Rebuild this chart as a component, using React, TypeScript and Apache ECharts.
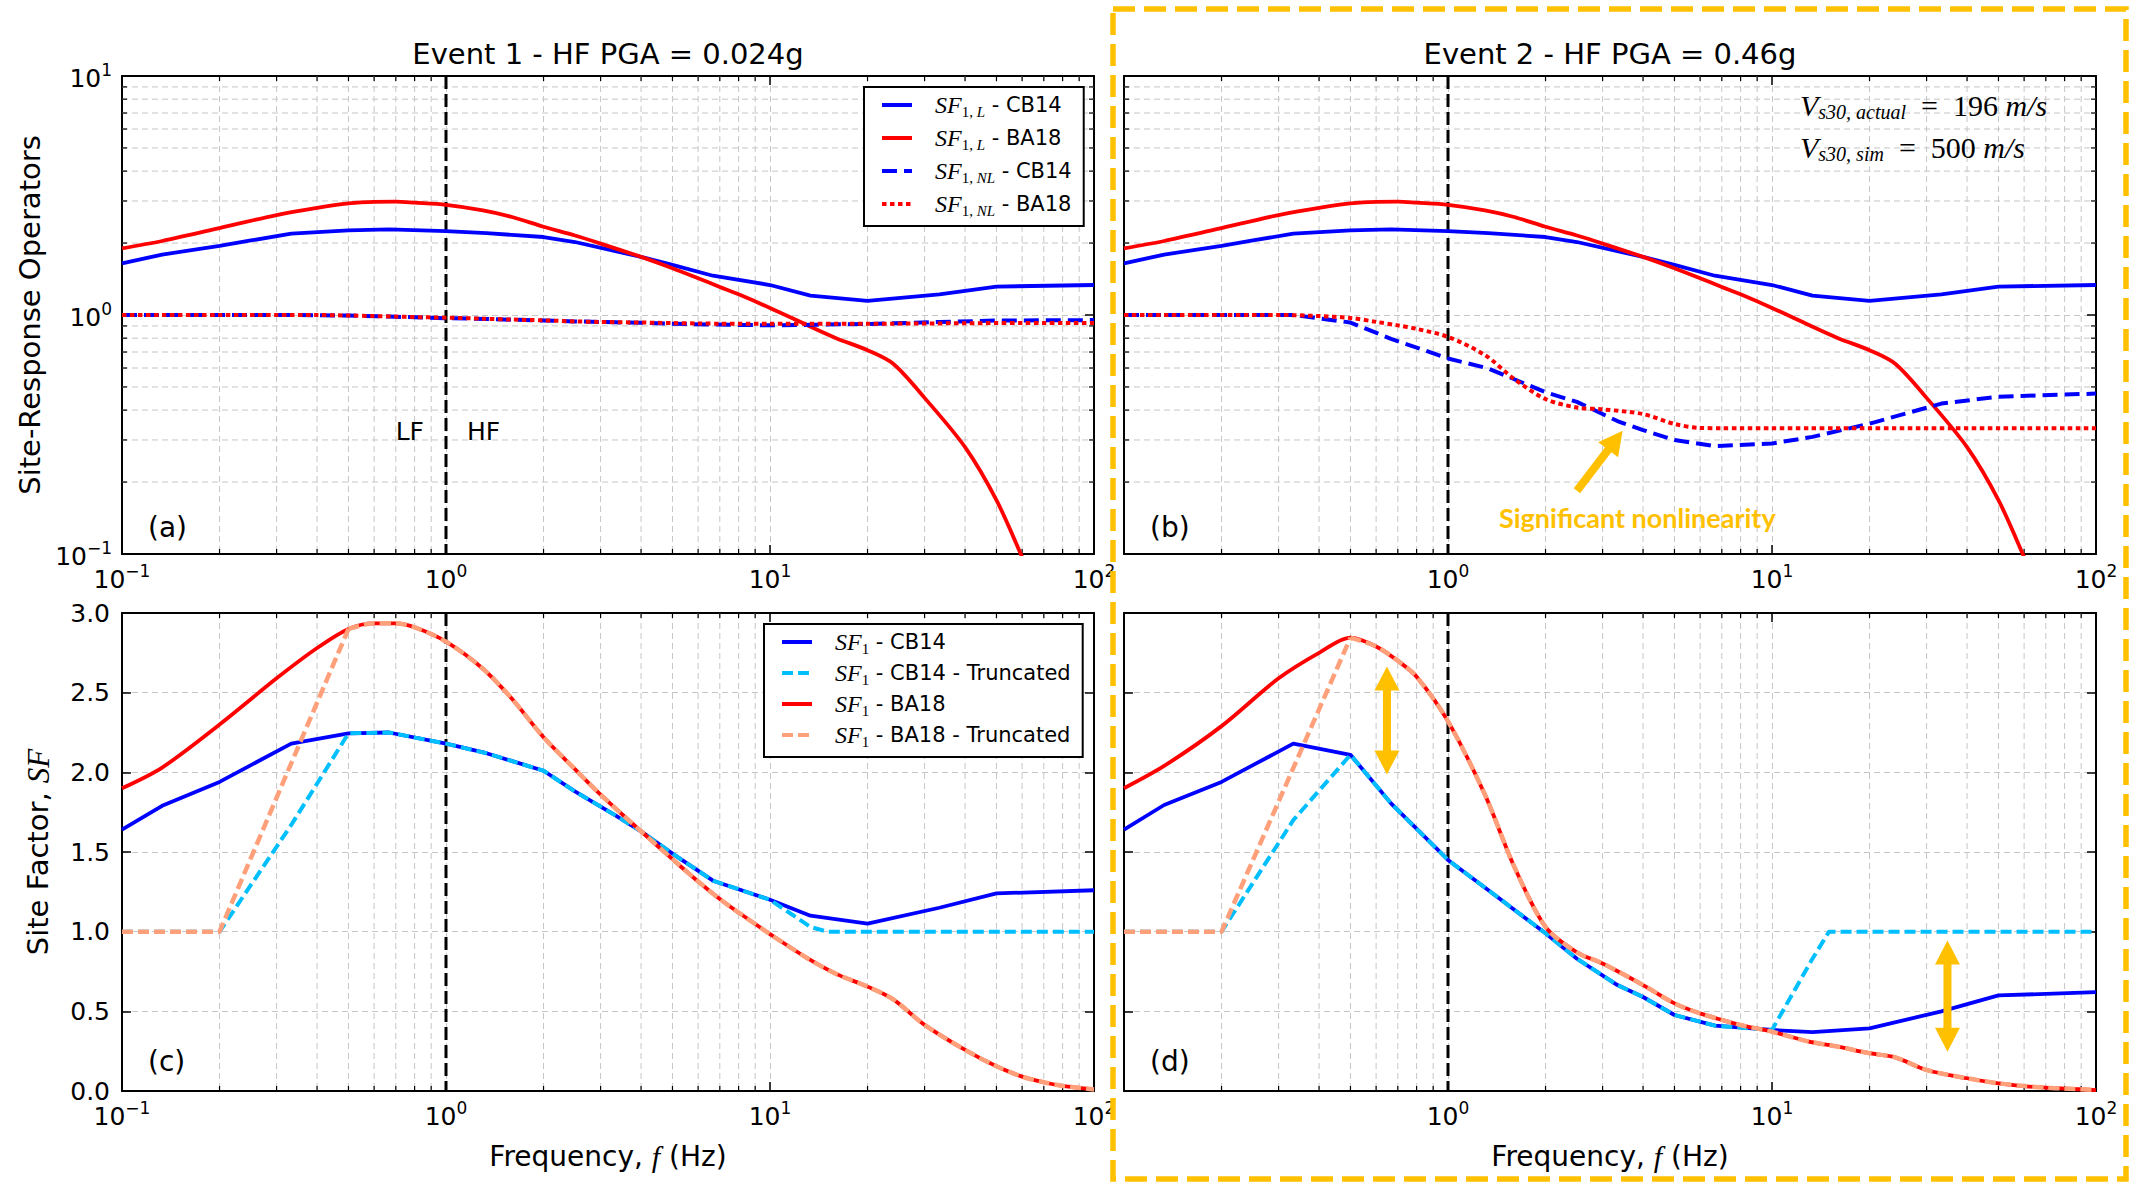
import React, { useEffect, useRef } from 'react';
import * as echarts from 'echarts';

// ---------- fonts & colours ----------
const SANS = 'DejaVu Sans';
const SERIF = 'Liberation Serif';
const BLUE = '#0000ff';
const RED = '#ff0000';
const CYAN = '#00bfff';
const SALMON = '#ffa07a';
const GOLD = '#ffc000';
const GRIDC = '#c6c6c6';

// ---------- data ----------
// BA18 frequency grid (Hz)
const freqBA = [0.1, 0.133, 0.2, 0.3, 0.4, 0.5, 0.6, 0.7, 0.8, 1, 1.3, 1.6, 2, 2.5, 3, 4, 5, 6, 7, 8, 10, 13, 16, 20, 24, 30, 40, 50, 60, 70, 80, 100];
// CB14 frequency grid (Hz)
const freqCB = [0.1, 0.133, 0.2, 0.25, 0.333, 0.5, 0.667, 1, 1.333, 2, 2.5, 3.333, 4, 5, 6.667, 10, 13.33, 20, 33.33, 50, 100];

// Linear site-response operators (panels a and b)
const ba18Lin = [1.90, 2.04, 2.31, 2.62, 2.81, 2.93, 2.975, 2.98, 2.95, 2.89, 2.74, 2.57, 2.34, 2.15, 1.99, 1.75, 1.57, 1.425, 1.31, 1.22, 1.07, 0.908, 0.80, 0.712, 0.625, 0.45, 0.28, 0.168, 0.097, 0.059, 0.035, 0.011];
const cb14Lin = [1.645, 1.79, 1.945, 2.05, 2.19, 2.26, 2.28, 2.245, 2.2, 2.12, 2.02, 1.85, 1.75, 1.62, 1.46, 1.335, 1.205, 1.145, 1.22, 1.315, 1.335];

// Nonlinear operators, event 1 (panel a)
const ba18NL1 = [1, 1, 1, 1, 1, 0.995, 0.99, 0.985, 0.98, 0.975, 0.965, 0.957, 0.95, 0.94, 0.935, 0.93, 0.925, 0.922, 0.92, 0.92, 0.92, 0.92, 0.92, 0.92, 0.92, 0.922, 0.923, 0.925, 0.925, 0.925, 0.925, 0.925];
const cb14NL1 = [1, 1, 1, 1, 1, 0.995, 0.985, 0.97, 0.962, 0.948, 0.94, 0.932, 0.927, 0.92, 0.912, 0.905, 0.91, 0.917, 0.935, 0.948, 0.952];

// Nonlinear operators, event 2 (panel b)
const ba18NL2 = [1, 1, 1, 1, 0.99, 0.972, 0.936, 0.905, 0.875, 0.81, 0.68, 0.54, 0.445, 0.41, 0.403, 0.385, 0.35, 0.337, 0.336, 0.336, 0.336, 0.336, 0.336, 0.336, 0.336, 0.336, 0.336, 0.336, 0.336, 0.336, 0.336, 0.336];
const cb14NL2 = [1, 1, 1, 1, 1, 0.93, 0.795, 0.658, 0.597, 0.475, 0.433, 0.36, 0.33, 0.30, 0.283, 0.29, 0.309, 0.351, 0.426, 0.455, 0.469];

// Site factors, event 1 (panel c)
const ba18SF1 = [1.90, 2.03, 2.30, 2.59, 2.78, 2.90, 2.935, 2.935, 2.91, 2.82, 2.65, 2.46, 2.22, 2.02, 1.86, 1.63, 1.455, 1.315, 1.205, 1.12, 0.985, 0.835, 0.735, 0.655, 0.575, 0.415, 0.258, 0.155, 0.09, 0.055, 0.032, 0.01];
const cb14SF1 = [1.64, 1.79, 1.94, 2.045, 2.18, 2.245, 2.25, 2.18, 2.12, 2.01, 1.88, 1.73, 1.63, 1.49, 1.32, 1.20, 1.10, 1.05, 1.15, 1.24, 1.26];

// Site factors, event 2 (panel d)
const ba18SF2 = [1.90, 2.04, 2.29, 2.59, 2.75, 2.845, 2.79, 2.70, 2.60, 2.32, 1.86, 1.41, 1.03, 0.87, 0.80, 0.665, 0.55, 0.487, 0.446, 0.414, 0.372, 0.31, 0.278, 0.237, 0.211, 0.132, 0.08, 0.048, 0.031, 0.021, 0.015, 0.006];
const cb14SF2 = [1.64, 1.795, 1.94, 2.045, 2.18, 2.11, 1.805, 1.45, 1.26, 0.99, 0.83, 0.665, 0.59, 0.477, 0.41, 0.383, 0.37, 0.393, 0.50, 0.60, 0.62];

// Truncated site factors: low-frequency ramp and CB14 high-frequency tail
const truncLowF = [0.1, 0.2, 0.333];
const cb14TruncLow1 = [1, 1, 1.67];
const cb14TruncLow2 = [1, 1, 1.70];
const truncHighF = [13.33, 15, 20, 33.33, 50, 100];
const cb14TruncHigh1 = [1.03, 1, 1, 1, 1, 1];
const cb14TruncHigh2 = [0.83, 1, 1, 1, 1, 1];
const baTruncLowF = [0.1, 0.2];
const baTruncLowV = [1, 1];
const truncJoinF = 0.5; // truncated curves rejoin the full curves here
const truncEndF = 10;   // CB14 truncated curve leaves the full curve here

// LF / HF boundary
const lfHfDivide = 1;

// annotation arrows [x0, y0, x1, y1] (tail -> tip), data space
const arrowB = [[2.5, 0.184, 3.46, 0.328]];
const arrowsD = [[0.648, 1.987, 0.648, 2.665], [34.8, 0.247, 34.8, 0.944]];

// tick helpers
const minorMult = [2, 3, 4, 5, 6, 7, 8, 9];
const xDecades = [0.1, 1, 10];
const yDecades = [0.1, 1];
const sfTicks = { min: 0, max: 3, step: 0.5 };

const titles = ['Event 1 - HF PGA = 0.024g', 'Event 2 - HF PGA = 0.46g'];
const panelTags = ['(a)', '(b)', '(c)', '(d)'];

// ---------- layout ----------
const GRIDS = [
  { left: 122, top: 76, width: 972, height: 478 },
  { left: 1124, top: 76, width: 972, height: 478 },
  { left: 122, top: 613, width: 972, height: 478 },
  { left: 1124, top: 613, width: 972, height: 478 },
];

const SMOOTH = 0.3;

const minorX = xDecades.flatMap((d) => minorMult.map((m) => +(d * m).toPrecision(3)));
const minorY = yDecades.flatMap((d) => minorMult.map((m) => +(d * m).toPrecision(3)));

function pairs(f: number[], v: number[]) {
  return f.map((x, i) => [x, v[i]]);
}

function truncCB(sf: number[], low: number[], high: number[]) {
  const pts: number[][] = truncLowF.map((f, i) => [f, low[i]]);
  freqCB.forEach((f, i) => {
    if (f >= truncJoinF && f <= truncEndF) pts.push([f, sf[i]]);
  });
  truncHighF.forEach((f, i) => pts.push([f, high[i]]));
  return pts;
}

// straight ramp part of the truncated BA18 curve (ends where it rejoins)
function truncBARamp(sf: number[]) {
  const pts: number[][] = baTruncLowF.map((f, i) => [f, baTruncLowV[i]]);
  const j = freqBA.indexOf(truncJoinF);
  pts.push([truncJoinF, sf[j]]);
  return pts;
}
// smooth part of the truncated BA18 curve (identical to the full curve)
function truncBARest(sf: number[]) {
  const pts: number[][] = [];
  freqBA.forEach((f, i) => {
    if (f >= truncJoinF) pts.push([f, sf[i]]);
  });
  return pts;
}

function expLabel(v: number) {
  const e = Math.round(Math.log10(v));
  return `{b|10}{e|${e < 0 ? '\u2212' + Math.abs(e) : e}}`;
}

const expRich = {
  b: { fontFamily: SANS, fontSize: 25, lineHeight: 30, verticalAlign: 'bottom', color: '#000' },
  e: { fontFamily: SANS, fontSize: 17, lineHeight: 12, verticalAlign: 'top', color: '#000' },
};

const axisLineStyle = { show: true, onZero: false, lineStyle: { color: '#000', width: 2 } };
const majorTick = { show: true, inside: true, length: 9, lineStyle: { color: '#000', width: 1.5 } };
const dashedSplit = { show: true, lineStyle: { color: GRIDC, width: 1, type: [6, 4] } };

function lineSeries(name: string, grid: number, data: number[][], color: string, width: number, dash?: number[], smooth?: number) {
  return {
    name,
    type: 'line',
    xAxisIndex: 2 * grid,
    yAxisIndex: 2 * grid,
    data,
    symbol: 'none',
    showSymbol: false,
    smooth: smooth ? smooth : false,
    z: 3,
    clip: true,
    silent: true,
    lineStyle: { color, width, type: dash ? dash : 'solid', cap: 'butt', join: 'round' },
    itemStyle: { color },
    emphasis: { disabled: true },
  };
}

function decorSeries(i: number, logY: boolean) {
  const idx = 2 * i;
  const out: any[] = [];
  out.push({
    type: 'custom',
    xAxisIndex: idx,
    yAxisIndex: idx,
    z: 1,
    silent: true,
    data: minorX.map((v) => [v, 1]),
    renderItem: (params: any, api: any) => {
      const cs = params.coordSys;
      const x = api.coord([api.value(0), api.value(1)])[0];
      const t = cs.y;
      const b = cs.y + cs.height;
      return {
        type: 'group',
        children: [
          { type: 'line', shape: { x1: x, y1: t, x2: x, y2: b }, style: { stroke: GRIDC, lineWidth: 1, lineDash: [6, 4] } },
          { type: 'line', shape: { x1: x, y1: b, x2: x, y2: b - 5 }, style: { stroke: '#000', lineWidth: 1.2 } },
          { type: 'line', shape: { x1: x, y1: t, x2: x, y2: t + 5 }, style: { stroke: '#000', lineWidth: 1.2 } },
        ],
      };
    },
  });
  if (logY) {
    out.push({
      type: 'custom',
      xAxisIndex: idx,
      yAxisIndex: idx,
      z: 1,
      silent: true,
      data: minorY.map((v) => [1, v]),
      renderItem: (params: any, api: any) => {
        const cs = params.coordSys;
        const y = api.coord([api.value(0), api.value(1)])[1];
        const l = cs.x;
        const r = cs.x + cs.width;
        return {
          type: 'group',
          children: [
            { type: 'line', shape: { x1: l, y1: y, x2: r, y2: y }, style: { stroke: GRIDC, lineWidth: 1, lineDash: [6, 4] } },
            { type: 'line', shape: { x1: l, y1: y, x2: l + 5, y2: y }, style: { stroke: '#000', lineWidth: 1.2 } },
            { type: 'line', shape: { x1: r, y1: y, x2: r - 5, y2: y }, style: { stroke: '#000', lineWidth: 1.2 } },
          ],
        };
      },
    });
  }
  out.push({
    type: 'custom',
    xAxisIndex: idx,
    yAxisIndex: idx,
    z: 2,
    silent: true,
    data: [[lfHfDivide, 1]],
    renderItem: (params: any, api: any) => {
      const cs = params.coordSys;
      const x = api.coord([api.value(0), api.value(1)])[0];
      return {
        type: 'line',
        shape: { x1: x, y1: cs.y, x2: x, y2: cs.y + cs.height },
        style: { stroke: '#000', lineWidth: 3, lineDash: [13, 5] },
      };
    },
  });
  return out;
}

function arrowSeries(i: number, arrows: number[][], double: boolean) {
  const idx = 2 * i;
  return {
    type: 'custom',
    xAxisIndex: idx,
    yAxisIndex: idx,
    z: 10,
    silent: true,
    data: arrows,
    renderItem: (params: any, api: any) => {
      const p0 = api.coord([api.value(0), api.value(1)]);
      const p1 = api.coord([api.value(2), api.value(3)]);
      const dx = p1[0] - p0[0];
      const dy = p1[1] - p0[1];
      const len = Math.hypot(dx, dy) || 1;
      const ux = dx / len;
      const uy = dy / len;
      const nx = -uy;
      const ny = ux;
      const HL = 24;
      const HW = 12.5;
      const head = (tip: number[], sx: number, sy: number) => ({
        type: 'polygon',
        shape: {
          points: [
            [tip[0], tip[1]],
            [tip[0] - sx * HL + nx * HW, tip[1] - sy * HL + ny * HW],
            [tip[0] - sx * HL - nx * HW, tip[1] - sy * HL - ny * HW],
          ],
        },
        style: { fill: GOLD },
      });
      const s0 = double ? [p0[0] + ux * (HL - 2), p0[1] + uy * (HL - 2)] : p0;
      const s1 = [p1[0] - ux * (HL - 2), p1[1] - uy * (HL - 2)];
      const children: any[] = [
        { type: 'line', shape: { x1: s0[0], y1: s0[1], x2: s1[0], y2: s1[1] }, style: { stroke: GOLD, lineWidth: 8 } },
        head(p1, ux, uy),
      ];
      if (double) children.push(head(p0, -ux, -uy));
      return { type: 'group', children };
    },
  };
}

const legendLabels: Record<string, string> = {
  'SF1L-CB14': '{i|SF}{s|1,}{si| L}{t| - CB14}',
  'SF1L-BA18': '{i|SF}{s|1,}{si| L}{t| - BA18}',
  'SF1NL-CB14': '{i|SF}{s|1,}{si| NL}{t| - CB14}',
  'SF1NL-BA18': '{i|SF}{s|1,}{si| NL}{t| - BA18}',
  'SF1-CB14': '{i|SF}{s|1}{t| - CB14}',
  'SF1-CB14-T': '{i|SF}{s|1}{t| - CB14 - Truncated}',
  'SF1-BA18': '{i|SF}{s|1}{t| - BA18}',
  'SF1-BA18-T': '{i|SF}{s|1}{t| - BA18 - Truncated}',
};

const legendRich = {
  i: { fontFamily: SERIF, fontStyle: 'italic', fontSize: 24, lineHeight: 28, verticalAlign: 'middle', color: '#000', padding: [0, 0, 0, 18] },
  s: { fontFamily: SERIF, fontSize: 15, lineHeight: 12, verticalAlign: 'bottom', color: '#000' },
  si: { fontFamily: SERIF, fontStyle: 'italic', fontSize: 15, lineHeight: 12, verticalAlign: 'bottom', color: '#000' },
  t: { fontFamily: SANS, fontSize: 21, lineHeight: 28, verticalAlign: 'middle', color: '#000' },
};

function legendBox(names: string[], left: number, top: number, gap: number) {
  return {
    data: names,
    orient: 'vertical',
    left,
    top,
    backgroundColor: '#fff',
    borderColor: '#000',
    borderWidth: 2,
    borderRadius: 0,
    padding: [6, 12, 8, 16],
    itemWidth: 30,
    itemHeight: 14,
    itemGap: gap,
    selectedMode: false,
    itemStyle: { opacity: 0 },
    lineStyle: { width: 4 },
    formatter: (n: string) => legendLabels[n] || n,
    textStyle: { rich: legendRich, color: '#000' },
    z: 20,
  };
}

function buildOption() {
  const xAxes: any[] = [];
  const yAxes: any[] = [];
  GRIDS.forEach((_, i) => {
    const isTop = i < 2;
    const isRight = i % 2 === 1;
    xAxes.push({
      type: 'log',
      logBase: 10,
      gridIndex: i,
      min: 0.1,
      max: 100,
      position: 'bottom',
      axisLine: axisLineStyle,
      axisTick: majorTick,
      axisLabel: { margin: 8, formatter: expLabel, rich: expRich, showMinLabel: !isRight, showMaxLabel: true, color: '#000' },
      splitLine: dashedSplit,
      ...(isTop
        ? {}
        : {
            name: '{t|Frequency, }{m|f}{t| (Hz)}',
            nameLocation: 'middle',
            nameGap: 48,
            nameTextStyle: {
              rich: {
                t: { fontFamily: SANS, fontSize: 28, lineHeight: 34, color: '#000' },
                m: { fontFamily: SERIF, fontStyle: 'italic', fontSize: 30, lineHeight: 34, color: '#000' },
              },
            },
          }),
    });
    xAxes.push({
      type: 'log',
      logBase: 10,
      gridIndex: i,
      min: 0.1,
      max: 100,
      position: 'top',
      axisLine: axisLineStyle,
      axisTick: majorTick,
      axisLabel: { show: false },
      splitLine: { show: false },
    });
    if (isTop) {
      yAxes.push({
        type: 'log',
        logBase: 10,
        gridIndex: i,
        min: 0.1,
        max: 10,
        position: 'left',
        axisLine: axisLineStyle,
        axisTick: majorTick,
        axisLabel: { show: !isRight, margin: 10, formatter: expLabel, rich: expRich, showMinLabel: true, showMaxLabel: true, color: '#000' },
        splitLine: dashedSplit,
        ...(isRight
          ? {}
          : {
              name: 'Site-Response Operators',
              nameLocation: 'middle',
              nameRotate: 90,
              nameGap: 75,
              nameTextStyle: { fontFamily: SANS, fontSize: 29, lineHeight: 34, color: '#000' },
            }),
      });
      yAxes.push({
        type: 'log',
        logBase: 10,
        gridIndex: i,
        min: 0.1,
        max: 10,
        position: 'right',
        axisLine: axisLineStyle,
        axisTick: majorTick,
        axisLabel: { show: false },
        splitLine: { show: false },
      });
    } else {
      yAxes.push({
        type: 'value',
        gridIndex: i,
        min: sfTicks.min,
        max: sfTicks.max,
        interval: sfTicks.step,
        position: 'left',
        axisLine: axisLineStyle,
        axisTick: majorTick,
        axisLabel: {
          show: !isRight,
          margin: 12,
          formatter: (v: number) => v.toFixed(1),
          fontFamily: SANS,
          fontSize: 25,
          color: '#000',
          showMinLabel: true,
          showMaxLabel: true,
        },
        splitLine: dashedSplit,
        ...(isRight
          ? {}
          : {
              name: '{t|Site Factor, }{m|SF}',
              nameLocation: 'middle',
              nameRotate: 90,
              nameGap: 67,
              nameTextStyle: {
                rich: {
                  t: { fontFamily: SANS, fontSize: 29, lineHeight: 34, color: '#000' },
                  m: { fontFamily: SERIF, fontStyle: 'italic', fontSize: 31, lineHeight: 34, color: '#000' },
                },
              },
            }),
      });
      yAxes.push({
        type: 'value',
        gridIndex: i,
        min: sfTicks.min,
        max: sfTicks.max,
        interval: sfTicks.step,
        position: 'right',
        axisLine: axisLineStyle,
        axisTick: majorTick,
        axisLabel: { show: false },
        splitLine: { show: false },
      });
    }
  });

  const LW = 3.8;
  const series: any[] = [
    ...decorSeries(0, true),
    ...decorSeries(1, true),
    ...decorSeries(2, false),
    ...decorSeries(3, false),
    // (a)
    lineSeries('SF1L-CB14', 0, pairs(freqCB, cb14Lin), BLUE, LW),
    lineSeries('SF1L-BA18', 0, pairs(freqBA, ba18Lin), RED, LW, undefined, SMOOTH),
    lineSeries('SF1NL-CB14', 0, pairs(freqCB, cb14NL1), BLUE, 4, [15, 7]),
    lineSeries('SF1NL-BA18', 0, pairs(freqBA, ba18NL1), RED, 4, [4.5, 3.5], SMOOTH),
    // (b)
    lineSeries('b SF1L-CB14', 1, pairs(freqCB, cb14Lin), BLUE, LW),
    lineSeries('b SF1L-BA18', 1, pairs(freqBA, ba18Lin), RED, LW, undefined, SMOOTH),
    lineSeries('b SF1NL-CB14', 1, pairs(freqCB, cb14NL2), BLUE, 4, [15, 7]),
    lineSeries('b SF1NL-BA18', 1, pairs(freqBA, ba18NL2), RED, 4, [4.5, 3.5], SMOOTH),
    // (c)
    lineSeries('SF1-CB14', 2, pairs(freqCB, cb14SF1), BLUE, LW),
    lineSeries('SF1-CB14-T', 2, truncCB(cb14SF1, cb14TruncLow1, cb14TruncHigh1), CYAN, 4, [11, 5]),
    lineSeries('SF1-BA18', 2, pairs(freqBA, ba18SF1), RED, LW, undefined, SMOOTH),
    lineSeries('SF1-BA18-T', 2, truncBARamp(ba18SF1), SALMON, 4.5, [11, 5]),
    lineSeries('SF1-BA18-T', 2, truncBARest(ba18SF1), SALMON, 4.5, [11, 5], SMOOTH),
    // (d)
    lineSeries('d SF1-CB14', 3, pairs(freqCB, cb14SF2), BLUE, LW),
    lineSeries('d SF1-CB14-T', 3, truncCB(cb14SF2, cb14TruncLow2, cb14TruncHigh2), CYAN, 4, [11, 5]),
    lineSeries('d SF1-BA18', 3, pairs(freqBA, ba18SF2), RED, LW, undefined, SMOOTH),
    lineSeries('d SF1-BA18-T', 3, truncBARamp(ba18SF2), SALMON, 4.5, [11, 5]),
    lineSeries('d SF1-BA18-T', 3, truncBARest(ba18SF2), SALMON, 4.5, [11, 5], SMOOTH),
    // annotation arrows
    arrowSeries(1, arrowB, false),
    arrowSeries(3, arrowsD, true),
  ];

  const tagPos = [
    [148, 527],
    [1150, 527],
    [148, 1061],
    [1150, 1061],
  ];

  const vsRich = {
    v: { fontFamily: SERIF, fontStyle: 'italic', fontSize: 30, lineHeight: 34, verticalAlign: 'middle', fill: '#000', color: '#000' },
    s: { fontFamily: SERIF, fontStyle: 'italic', fontSize: 20, lineHeight: 14, verticalAlign: 'bottom', fill: '#000', color: '#000' },
    e: { fontFamily: SERIF, fontSize: 30, lineHeight: 34, verticalAlign: 'middle', fill: '#000', color: '#000' },
  };

  const graphic: any[] = [
    {
      type: 'text',
      x: 608,
      y: 54,
      z: 30,
      style: { text: titles[0], fontFamily: SANS, fontSize: 29, fill: '#000', align: 'center', verticalAlign: 'middle', textAlign: 'center', textVerticalAlign: 'middle' },
    },
    {
      type: 'text',
      x: 1610,
      y: 54,
      z: 30,
      style: { text: titles[1], fontFamily: SANS, fontSize: 29, fill: '#000', align: 'center', verticalAlign: 'middle', textAlign: 'center', textVerticalAlign: 'middle' },
    },
    ...panelTags.map((t, i) => ({
      type: 'text',
      x: tagPos[i][0],
      y: tagPos[i][1],
      z: 30,
      style: { text: t, fontFamily: SANS, fontSize: 28, fill: '#000', align: 'left', verticalAlign: 'middle', textAlign: 'left', textVerticalAlign: 'middle' },
    })),
    {
      type: 'text',
      x: 424,
      y: 431,
      z: 30,
      style: { text: 'LF', fontFamily: SANS, fontSize: 25, fill: '#000', align: 'right', verticalAlign: 'middle', textAlign: 'right', textVerticalAlign: 'middle' },
    },
    {
      type: 'text',
      x: 467,
      y: 431,
      z: 30,
      style: { text: 'HF', fontFamily: SANS, fontSize: 25, fill: '#000', align: 'left', verticalAlign: 'middle', textAlign: 'left', textVerticalAlign: 'middle' },
    },
    {
      type: 'text',
      x: 1800,
      y: 105,
      z: 30,
      style: {
        text: '{v|V}{s|s30, actual}{e|  =  196 }{v|m/s}',
        align: 'left',
        verticalAlign: 'middle',
        textAlign: 'left',
        textVerticalAlign: 'middle',
        rich: vsRich,
      },
    },
    {
      type: 'text',
      x: 1800,
      y: 147,
      z: 30,
      style: {
        text: '{v|V}{s|s30, sim}{e|  =  500 }{v|m/s}',
        align: 'left',
        verticalAlign: 'middle',
        textAlign: 'left',
        textVerticalAlign: 'middle',
        rich: vsRich,
      },
    },
    {
      type: 'text',
      x: 1499,
      y: 517,
      z: 30,
      style: {
        text: 'Significant nonlinearity',
        fontFamily: 'Lato',
        fontWeight: 'bold',
        fontSize: 27,
        fill: GOLD,
        align: 'left',
        verticalAlign: 'middle',
        textAlign: 'left',
        textVerticalAlign: 'middle',
      },
    },
    {
      type: 'rect',
      z: 40,
      shape: { x: 1113, y: 9, width: 1013, height: 1170 },
      style: { fill: 'none', stroke: GOLD, lineWidth: 5.5, lineDash: [22, 9] },
    },
  ];

  return {
    animation: false,
    backgroundColor: '#fff',
    textStyle: { fontFamily: SANS },
    grid: GRIDS.map((g) => ({ ...g, containLabel: false })),
    xAxis: xAxes,
    yAxis: yAxes,
    legend: [
      legendBox(['SF1L-CB14', 'SF1L-BA18', 'SF1NL-CB14', 'SF1NL-BA18'], 864, 87, 7),
      legendBox(['SF1-CB14', 'SF1-CB14-T', 'SF1-BA18', 'SF1-BA18-T'], 764, 624, 5),
    ],
    series,
    graphic,
  };
}

export default function App() {
  const ref = useRef<HTMLDivElement>(null);
  useEffect(() => {
    if (!ref.current) return;
    const chart = echarts.init(ref.current, null, { renderer: 'svg' });
    chart.setOption(buildOption() as any);
    return () => {
      chart.dispose();
    };
  }, []);
  return (
    <div
      ref={ref}
      style={{ position: 'absolute', left: 0, top: 0, width: 2131, height: 1184, background: '#fff' }}
    />
  );
}
